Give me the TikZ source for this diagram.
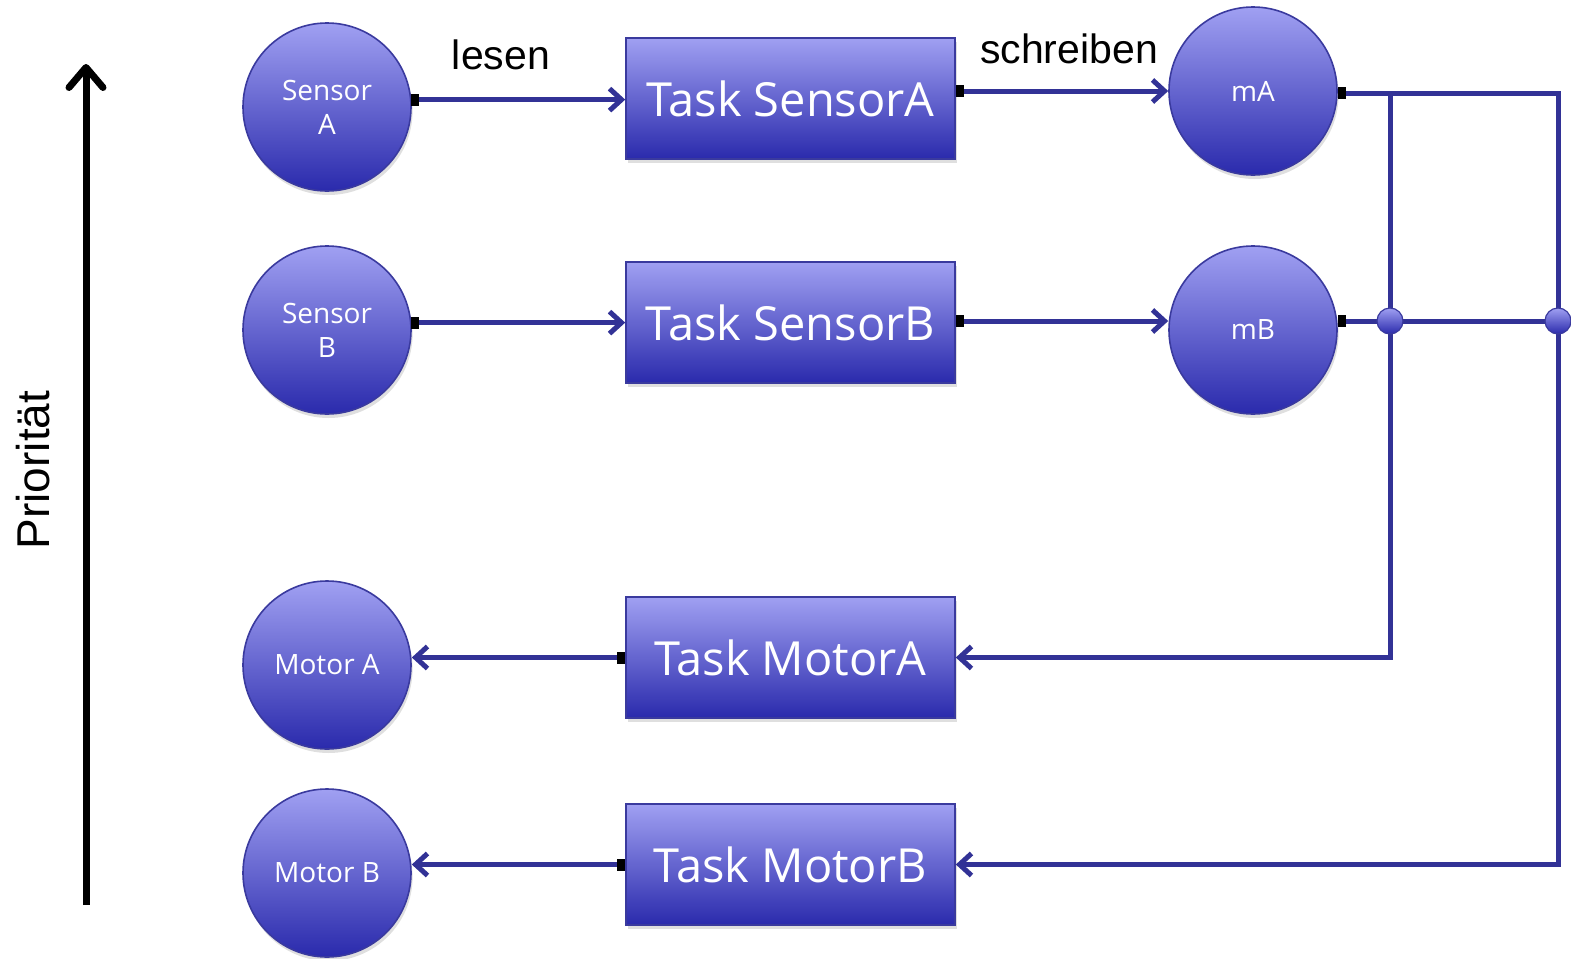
\documentclass[tikz,border=0pt]{standalone}
\usepackage{fontspec}
\setmainfont{Liberation Sans}
\newfontfamily\nodefont{Open Sans}
\usepackage{tikz}
\usetikzlibrary{positioning,arrows.meta,shadows,calc}

\definecolor{linkblue}{RGB}{50,50,150}
\definecolor{nodetop}{RGB}{160,160,242}
\definecolor{nodebot}{RGB}{42,42,172}
\definecolor{nodeedge}{RGB}{58,58,158}

\tikzset{
  knoten/.style={shade,top color=nodetop,bottom color=nodebot,draw=nodeedge,line width=0.8pt,
    text=white,font=\nodefont,drop shadow={shadow xshift=0.8pt,shadow yshift=-2pt,opacity=0.25}},
  rund/.style={knoten,circle,minimum size=84pt,inner sep=0pt,align=center,font=\nodefont\fontsize{14}{17}\selectfont},
  task/.style={knoten,rectangle,minimum width=164.5pt,minimum height=60.5pt,inner sep=0pt,
    font=\nodefont\fontsize{23.5}{27}\selectfont},
  punkt/.style={circle,minimum size=13pt,inner sep=0pt,shade,top color=nodetop,bottom color=nodebot,draw=nodeedge,line width=0.6pt},
  fluss/.style={draw=linkblue,line width=2.5pt,
    arrows={Square[black,length=4pt,width=6pt]-{Straight Barb[length=6pt,width=11pt]}}},
  leitung/.style={draw=linkblue,line width=2.5pt,arrows={Square[black,length=4pt,width=6pt]-}},
  beschr/.style={font=\fontsize{20.5}{24}\selectfont}
}

\begin{document}
\begin{tikzpicture}[x=0.5pt,y=-0.5pt]
  \useasboundingbox (0,0) rectangle (1571,959);
  % Prioritaet
  \coordinate (pu) at (86,905);
  \coordinate (po) at (86,64);
  \draw[line width=3.5pt,-{Straight Barb[length=10pt,width=17pt,round]}] (pu) -- (po);
  \node[rotate=90,font=\fontsize{23}{27}\selectfont] (prio) at (33,470) {Priorität};
  % Sensoren und Motoren
  \node[rund] (sa) at (327,107) {Sensor\\A};
  \node[rund] (sb) at (327,330) {Sensor\\B};
  \node[rund] (moa) at (327,665) {Motor A};
  \node[rund] (mob) at (327,873) {Motor B};
  % Tasks
  \node[task] (tsa) at (790.5,98.5) {Task SensorA};
  \node[task] (tsb) at (790.5,322.5) {Task SensorB};
  \node[task] (tma) at (790.5,657.5) {Task MotorA};
  \node[task] (tmb) at (790.5,864.5) {Task MotorB};
  % Speicher
  \node[rund] (ma) at (1253,91) {mA};
  \node[rund] (mb) at (1253,330) {mB};
  % Beschriftungen
  \node[beschr] (lesen) at (501,55) {lesen};
  \node[beschr] (schreiben) at (1069,49) {schreiben};
  % lesen / schreiben
  \draw[fluss] (sa.5) -- (sa.5 -| tsa.west);
  \draw[fluss] (sb.5) -- (sb.5 -| tsb.west);
  \draw[fluss] (tsa.east |- ma) -- (ma.west);
  \draw[fluss] (tsb.east |- 0,321) -- (mb.west |- 0,321);
  % Verteilung
  \coordinate (kl) at (1390,93);
  \coordinate (kr) at (1558,93);
  \draw[fluss] (ma.east |- kr) -- (kr) -- (kr |- tmb) -- (tmb.east);
  \draw[draw=linkblue,line width=2.5pt,-{Straight Barb[length=6pt,width=11pt]}] (kl) -- (kl |- tma) -- (tma.east);
  \draw[leitung] (mb.east |- 0,321) -- (1571,321);
  \node[punkt] (j1) at (1390,321) {};
  \node[punkt] (j2) at (1558,321) {};
  % Motoren
  \draw[fluss] (tma.west) -- (tma.west -| moa.east);
  \draw[fluss] (tmb.west) -- (tmb.west -| mob.east);
\end{tikzpicture}
\end{document}
